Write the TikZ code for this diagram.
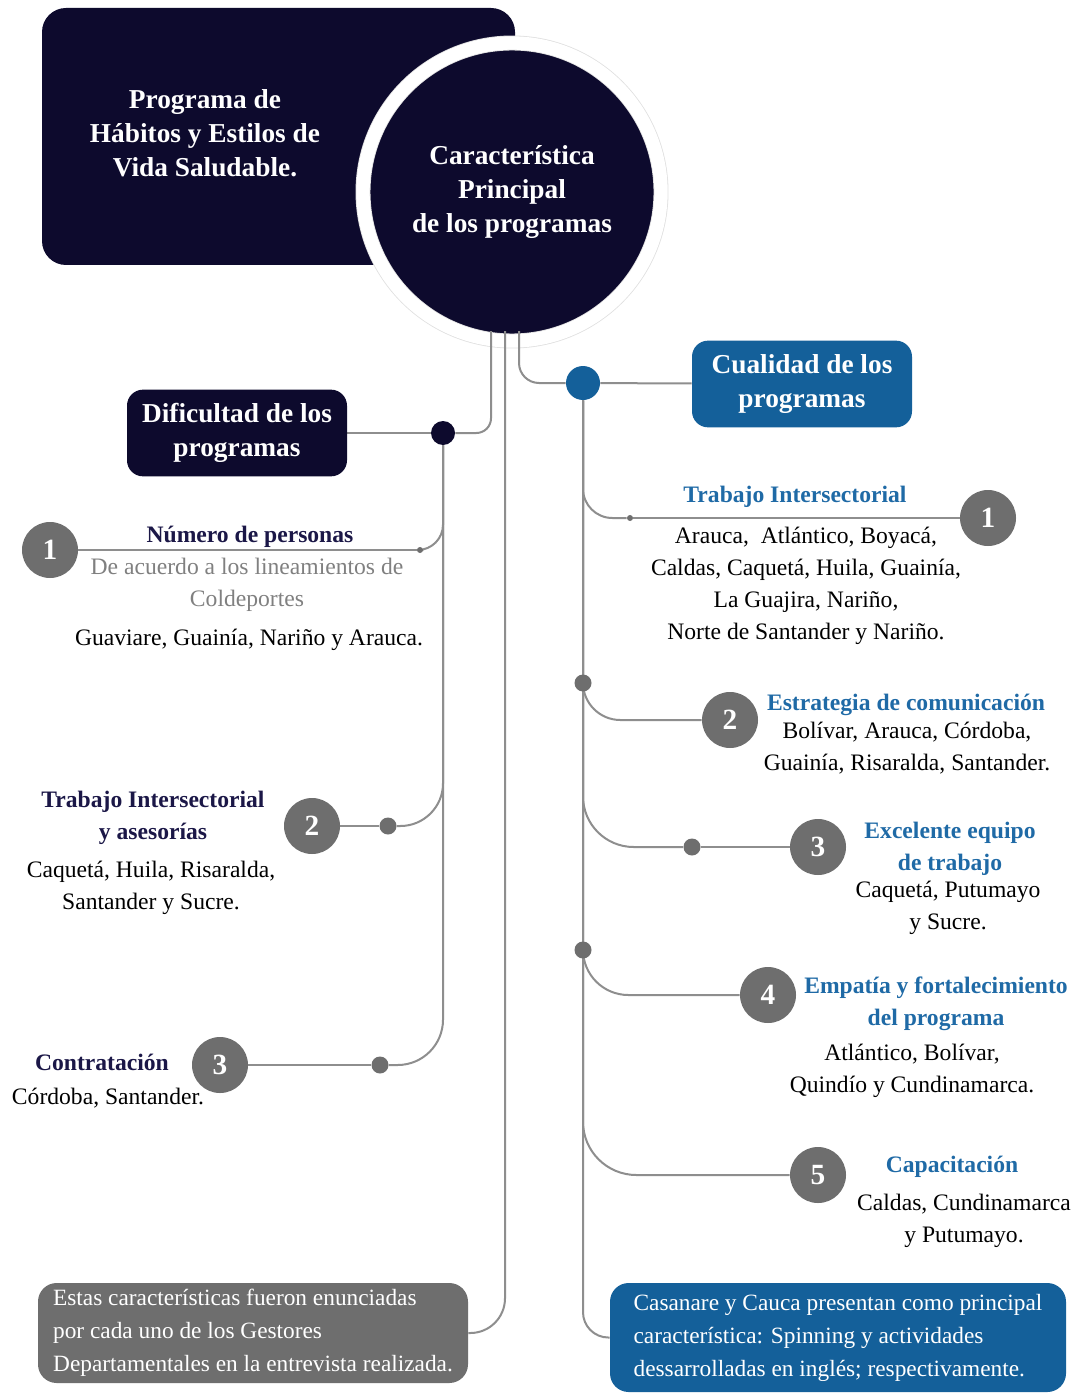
\documentclass[tikz,border=0pt]{standalone}
\usepackage{fontspec}
\setmainfont{Liberation Serif}
\usepackage{xcolor}
\usepackage{tikz}
\usetikzlibrary{positioning,calc}
\definecolor{navy}{HTML}{0D0A2D}
\definecolor{qblue}{HTML}{14609A}
\definecolor{headblue}{HTML}{1F6AA6}
\definecolor{headnavy}{HTML}{1B1747}
\definecolor{numgrey}{HTML}{6E6E6E}
\definecolor{linegrey}{HTML}{8E8E8E}
\definecolor{subgrey}{HTML}{808080}
\newcommand\hubfont{\fontsize{20.5}{25.5}\selectfont}
\newcommand\itemfont{\fontsize{17.7}{24}\selectfont}
\newcommand\notefont{\fontsize{17.5}{24.75}\selectfont}
\newcommand\numfont{\fontsize{22}{22}\selectfont}
\pgfdeclarelayer{back}
\pgfdeclarelayer{wires}
\pgfsetlayers{back,wires,main}
\tikzset{
  topbox/.style={fill=navy, rounded corners=18pt, minimum width=354.75pt, minimum height=192.75pt},
  hub/.style={circle, fill=navy, draw=black!12, double=white, double distance=10pt, line width=0.6pt,
    minimum size=223.5pt, inner sep=0pt, text=white, align=center, font=\hubfont\bfseries},
  titletxt/.style={text=white, align=center, font=\hubfont\bfseries, inner sep=0pt},
  catbox/.style={fill=#1, rounded corners=12pt, minimum width=165pt, minimum height=65pt,
    text=white, align=center, font=\hubfont\bfseries},
  notebox/.style={fill=#1, rounded corners=14pt, text=white, align=left, font=\notefont},
  num/.style={circle, fill=numgrey, minimum size=42pt, inner sep=0pt, text=white, font=\numfont\bfseries},
  dot/.style={circle, fill=numgrey, minimum size=12.75pt, inner sep=0pt},
  tinydot/.style={circle, fill=numgrey, minimum size=4.5pt, inner sep=0pt},
  wire/.style={draw=linegrey, line width=1.5pt},
  lhead/.style={text=headnavy, font=\itemfont\bfseries, align=center, inner sep=0pt},
  rhead/.style={text=headblue, font=\itemfont\bfseries, align=center, inner sep=0pt},
  body/.style={font=\itemfont, align=center, inner sep=0pt},
}
\begin{document}
\begin{tikzpicture}[x=0.75pt, y=-0.75pt]
\useasboundingbox (0,0) rectangle (1084,1394);

\begin{pgfonlayer}{back}
\fill[white] (0,0) rectangle (1084,1394);
\node[topbox] (titlebox) at (278.5,136.5) {};
\node[hub] (hub) at (512,192) {Característica\\Principal\\de los programas};
\end{pgfonlayer}
\node[titletxt] (title) at (205,133) {Programa de\\Hábitos y Estilos de\\Vida Saludable.};

% categories
\node[dot, fill=navy, minimum size=18pt] (ddot) at (443,433) {};
\node[catbox=navy] (dif) at (237,433) {Dificultad de los\\programas};
\node[dot, fill=qblue, minimum size=25.5pt] (bdot) at (583,383) {};
\node[catbox=qblue] (cual) at (802,384) {Cualidad de los\\programas};

% left items
\node[tinydot] (ldot1) at (420,550) {};
\node[num] (lnum1) at (50,550) {1};
\node[lhead] (lh1) at (250,537) {Número de personas};
\node[body, text=subgrey] (lsub1) at (247,585) {De acuerdo a los lineamientos de\\Coldeportes};
\node[body] (lb1) at (249,640) {Guaviare, Guainía, Nariño y Arauca.};

\node[dot] (ldot2) at (388,826) {};
\node[num] (lnum2) at (312,826) {2};
\node[lhead] (lh2) at (153,818) {Trabajo Intersectorial\\y asesorías};
\node[body] (lb2) at (151,888) {Caquetá, Huila, Risaralda,\\Santander y Sucre.};

\node[dot] (ldot3) at (380,1065) {};
\node[num] (lnum3) at (220,1065) {3};
\node[lhead] (lh3) at (102,1062) {Contratación};
\node[body] (lb3) at (108,1098) {Córdoba, Santander.};

% right items
\node[tinydot] (rdot1) at (630,518) {};
\node[num] (rnum1) at (988,518) {1};
\node[rhead] (rh1) at (795,497) {Trabajo Intersectorial};
\node[body] (rb1) at (806,586) {Arauca,~ Atlántico, Boyacá,\\Caldas, Caquetá, Huila, Guainía,\\La Guajira, Nariño,\\Norte de Santander y Nariño.};

\node[dot] (rjoin2) at (583,683) {};
\node[num] (rnum2) at (730,720) {2};
\node[rhead] (rh2) at (906,705) {Estrategia de comunicación};
\node[body] (rb2) at (907,748) {Bolívar, Arauca, Córdoba,\\Guainía, Risaralda, Santander.};

\node[dot] (rdot3) at (692,847) {};
\node[num] (rnum3) at (818,847) {3};
\node[rhead] (rh3) at (950,849) {Excelente equipo\\de trabajo};
\node[body] (rb3) at (948,908) {Caquetá, Putumayo\\y Sucre.};

\node[dot] (rjoin4) at (583,950) {};
\node[num] (rnum4) at (768,995) {4};
\node[rhead] (rh4) at (936,1004) {Empatía y fortalecimiento\\del programa};
\node[body] (rb4) at (912,1071) {Atlántico, Bolívar,\\Quindío y Cundinamarca.};

\node[num] (rnum5) at (818,1175) {5};
\node[rhead] (rh5) at (952,1167) {Capacitación};
\node[body] (rb5) at (964,1221) {Caldas, Cundinamarca\\y Putumayo.};

% bottom notes
\node[notebox=numgrey, minimum width=322.5pt, minimum height=75pt] (note) at (253,1333)
  {Estas características fueron enunciadas\\por cada uno de los Gestores\\Departamentales en la entrevista realizada.};
\node[notebox=qblue, minimum width=342pt, minimum height=81.75pt] (summary) at (838,1337.5)
  {Casanare y Cauca presentan como principal\\característica: Spinning y actividades\\dessarrolladas en inglés; respectivamente.};

\begin{pgfonlayer}{wires}
\coordinate (outL) at (491,331);
\coordinate (outM) at (505,331);
\coordinate (outR) at (519,331);
\draw[wire, rounded corners=11pt] (outL) |- (ddot);
\draw[wire] (ddot) -- (dif);
\draw[wire, rounded corners=34pt] (ddot) |- (ldot3);
\draw[wire, rounded corners=19pt] (ddot) |- (ldot1);
\draw[wire] (ldot1) -- (lnum1);
\draw[wire, rounded corners=32pt] (ddot) |- (ldot2);
\draw[wire] (ldot2) -- (lnum2);
\draw[wire] (ldot3) -- (lnum3);
\draw[wire, rounded corners=26pt] (outM) |- (note);
\draw[wire, rounded corners=15pt] (outR) |- (bdot);
\draw[wire] (bdot) -- (cual);
\draw[wire, rounded corners=19pt] (bdot) |- (summary);
\draw[wire, rounded corners=22pt] (bdot) |- (rdot1);
\draw[wire] (rdot1) -- (rnum1);
\draw[wire, rounded corners=28pt] (rjoin2) |- (rnum2);
\draw[wire, rounded corners=38pt] (bdot) |- (rdot3);
\draw[wire] (rdot3) -- (rnum3);
\draw[wire, rounded corners=34pt] (rjoin4) |- (rnum4);
\draw[wire, rounded corners=40pt] (bdot) |- (rnum5);
\end{pgfonlayer}
\end{tikzpicture}
\end{document}
